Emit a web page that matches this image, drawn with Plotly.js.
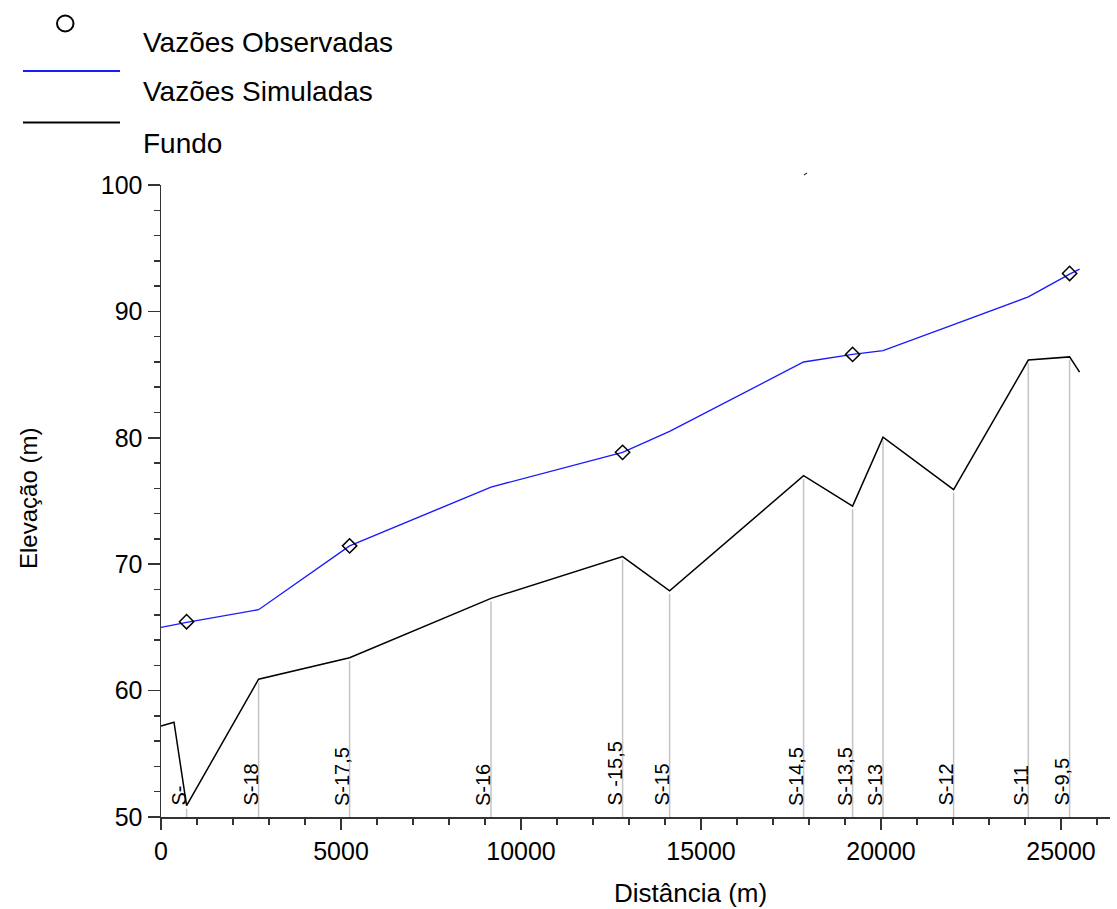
<!DOCTYPE html>
<html>
<head>
<meta charset="utf-8">
<script src="https://cdn.plot.ly/plotly-3.0.1.min.js"></script>
<style>html,body{margin:0;padding:0;background:#fff;}#chart{width:1117px;height:909px;}</style>
</head>
<body>
<div id="chart"></div>
<script>
// ---- data ----
const secDist   = [711, 2711, 5239, 9167, 12822, 14128, 17850, 19211, 20056, 22017, 24092, 25239];
const secLabels = ["S-", "S-18", "S-17,5", "S-16", "S -15,5", "S-15", "S-14,5", "S-13,5", "S-13", "S-12", "S-11", "S-9,5"];
const secBed    = [50.9, 60.9, 62.6, 67.3, 70.6, 67.9, 77.0, 74.6, 80.05, 75.9, 86.15, 86.4];

const fundoX = [0, 361, 711, 2711, 5239, 9167, 12822, 14128, 17850, 19211, 20056, 22017, 24092, 25239, 25517];
const fundoY = [57.2, 57.5, 50.9, 60.9, 62.6, 67.3, 70.6, 67.9, 77.0, 74.6, 80.05, 75.9, 86.15, 86.4, 85.2];

const simX = [0, 711, 2711, 5239, 9167, 12822, 14128, 17850, 19211, 20056, 22017, 24092, 25239, 25517];
const simY = [65.0, 65.4, 66.4, 71.45, 76.1, 78.85, 80.5, 86.0, 86.6, 86.9, 88.95, 91.15, 92.95, 93.35];

const obsX = [711, 5239, 12822, 19211, 25239];
const obsY = [65.45, 71.45, 78.85, 86.6, 93.0];

const legendNames = ["Vazões Observadas", "Vazões Simuladas", "Fundo"];
const xTitle = "Distância (m)";
const yTitle = "Elevação (m)";

// ---- layout helpers ----
const W = 1117, H = 909;
const M = {l: 161, r: 7, t: 185, b: 92};
const PW = W - M.l - M.r, PH = H - M.t - M.b;
const px = x => (x - M.l) / PW;
const py = y => (H - M.b - y) / PH;
const FONT = "Liberation Sans, Arial, Helvetica, sans-serif";

const traces = [];
// section verticals
secDist.forEach((d, i) => {
  traces.push({x: [d, d], y: [50, secBed[i] - 0.25], mode: 'lines', type: 'scatter',
    line: {color: '#c4c4c4', width: 1.5}, showlegend: false, hoverinfo: 'skip'});
});
traces.push({x: fundoX, y: fundoY, mode: 'lines', type: 'scatter', name: legendNames[2],
  line: {color: '#000000', width: 1.5}, showlegend: false});
traces.push({x: simX, y: simY, mode: 'lines', type: 'scatter', name: legendNames[1],
  line: {color: '#1a1aff', width: 1.4}, showlegend: false});
traces.push({x: obsX, y: obsY, mode: 'markers', type: 'scatter', name: legendNames[0],
  marker: {symbol: 'diamond-open', size: 11, color: '#000', line: {width: 1.5, color: '#000'}}, showlegend: false});

const annotations = secLabels.map((t, i) => ({
  x: secDist[i], y: 50, xref: 'x', yref: 'y', text: t, showarrow: false,
  textangle: -90, xanchor: 'right', yanchor: 'bottom', xshift: 5, yshift: 9,
  font: {family: FONT, size: 20, color: '#000'}
}));
// axis titles
annotations.push({x: px(690), y: py(893), xref: 'paper', yref: 'paper', text: xTitle, showarrow: false,
  xanchor: 'center', yanchor: 'middle', font: {family: FONT, size: 26, color: '#000'}});
annotations.push({x: px(28), y: py(499), xref: 'paper', yref: 'paper', text: yTitle, showarrow: false,
  textangle: -90, xanchor: 'center', yanchor: 'middle', font: {family: FONT, size: 24, color: '#000'}});
// legend texts
[[43, 0], [91, 1], [143, 2]].forEach(([yy, k]) => {
  annotations.push({x: px(141), y: py(yy), xref: 'paper', yref: 'paper', text: legendNames[k], showarrow: false,
    xanchor: 'left', yanchor: 'middle', font: {family: FONT, size: 28, color: '#000'}});
});

const shapes = [
  {type: 'circle', xref: 'paper', yref: 'paper', x0: px(57), x1: px(73.5), y0: py(31.5), y1: py(15.5),
   line: {color: '#000', width: 2}},
  {type: 'line', xref: 'paper', yref: 'paper', x0: px(23), x1: px(120), y0: py(71), y1: py(71),
   line: {color: '#1a1aff', width: 2}},
  {type: 'line', xref: 'paper', yref: 'paper', x0: px(23), x1: px(120), y0: py(122.5), y1: py(122.5),
   line: {color: '#000', width: 2}},
  // small stray mark above the plot
  {type: 'line', xref: 'paper', yref: 'paper', x0: px(804), x1: px(807), y0: py(175), y1: py(173),
   line: {color: '#333', width: 1.2}}
];

const layout = {
  width: W, height: H, margin: M,
  paper_bgcolor: '#fff', plot_bgcolor: '#fff',
  showlegend: false,
  font: {family: FONT, color: '#000'},
  xaxis: {range: [0, PW / 0.036], showgrid: false, zeroline: false, showline: true, linecolor: '#333', linewidth: 1.5,
    ticks: 'outside', ticklen: 11, tickwidth: 1.5, tickcolor: '#333', dtick: 5000, tick0: 0,
    tickfont: {family: FONT, size: 25, color: '#000'}, tickformat: 'd',
    minor: {dtick: 1000, ticks: 'outside', ticklen: 6, tickwidth: 1.5, tickcolor: '#333', showgrid: false}},
  yaxis: {range: [50, 100], showgrid: false, zeroline: false, showline: true, linecolor: '#333', linewidth: 1.5,
    ticks: 'outside', ticklen: 12, tickwidth: 1.5, tickcolor: '#333', dtick: 10, tick0: 50,
    tickfont: {family: FONT, size: 25, color: '#000'},
    minor: {dtick: 2, ticks: 'outside', ticklen: 6, tickwidth: 1.5, tickcolor: '#333', showgrid: false}},
  annotations: annotations,
  shapes: shapes
};

Plotly.newPlot('chart', traces, layout, {displayModeBar: false, staticPlot: true});
</script>
</body>
</html>
